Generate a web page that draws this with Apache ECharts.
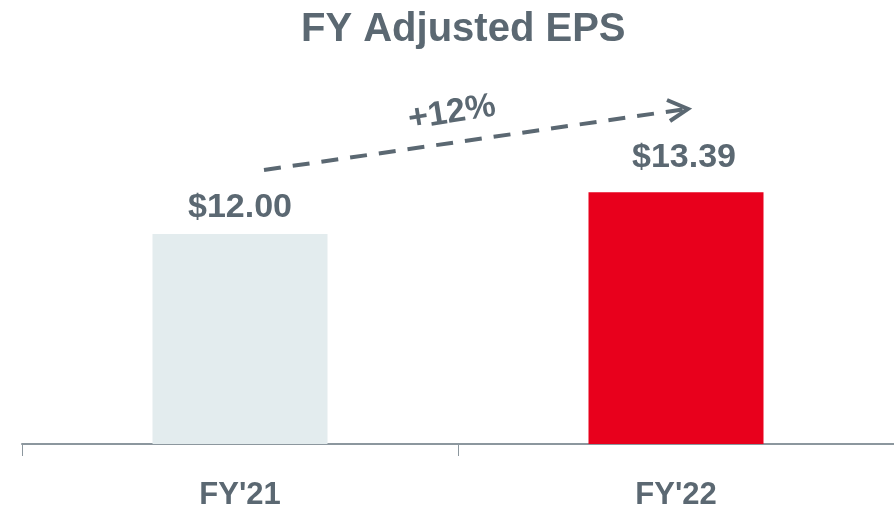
<!DOCTYPE html>
<html>
<head>
<meta charset="utf-8">
<script src="https://cdn.jsdelivr.net/npm/echarts@6/dist/echarts.min.js"></script>
<style>
html,body{margin:0;padding:0;background:#fff;}
#chart{width:894px;height:507px;}
</style>
</head>
<body>
<div id="chart"></div>
<script>
var categories = ["FY'21", "FY'22"];
var epsValues = [12.00, 13.39];
var barColors = ['#e3ecee', '#e8001c'];
var labelShiftX = [0, 8];
var labelShiftY = [0, -9];
var growthLabel = '+12%';
var titleText = 'FY Adjusted EPS';

var textColor = '#5b6872';
var font = '"Liberation Sans", Arial, Helvetica, sans-serif';

var chart = echarts.init(document.getElementById('chart'));
chart.setOption({
  animation: false,
  backgroundColor: '#ffffff',
  title: {
    text: titleText,
    left: 296,
    top: 5,
    textStyle: { fontFamily: font, fontSize: 40, fontWeight: 'bold', color: textColor }
  },
  grid: { left: 22, right: 0, top: 144, bottom: 63, containLabel: false, outerBoundsMode: 'none' },
  xAxis: {
    type: 'category',
    data: categories,
    axisLine: { lineStyle: { color: '#8c979e', width: 2 } },
    axisTick: { show: true, length: 12, lineStyle: { color: '#8c979e', width: 1 } },
    axisLabel: { margin: 36, fontFamily: font, fontSize: 31, fontWeight: 'bold', color: textColor }
  },
  yAxis: { type: 'value', min: 5, max: 15, show: false, splitLine: { show: false } },
  series: [{
    type: 'bar',
    barWidth: 175,
    data: epsValues.map(function (v, i) {
      return { value: v, itemStyle: { color: barColors[i] }, label: { offset: [labelShiftX[i], labelShiftY[i]] } };
    }),
    label: {
      show: true,
      position: 'top',
      distance: 9,
      fontFamily: font,
      fontSize: 34,
      fontWeight: 'bold',
      color: textColor,
      formatter: function (p) { return '$' + p.value.toFixed(2); }
    }
  }],
  graphic: [
    {
      type: 'line',
      shape: { x1: 264, y1: 170, x2: 686, y2: 109 },
      style: { stroke: textColor, lineWidth: 4, lineDash: [17, 12] }
    },
    {
      type: 'polyline',
      shape: { points: [[667, 100], [688, 109], [670, 121]] },
      style: { stroke: textColor, lineWidth: 4, fill: null }
    },
    {
      type: 'text',
      x: 452, y: 113,
      rotation: 9 * Math.PI / 180,
      style: {
        text: growthLabel,
        fontFamily: font, fontSize: 34, fontWeight: 'bold',
        fill: textColor, align: 'center', verticalAlign: 'middle'
      }
    }
  ]
});
</script>
</body>
</html>
